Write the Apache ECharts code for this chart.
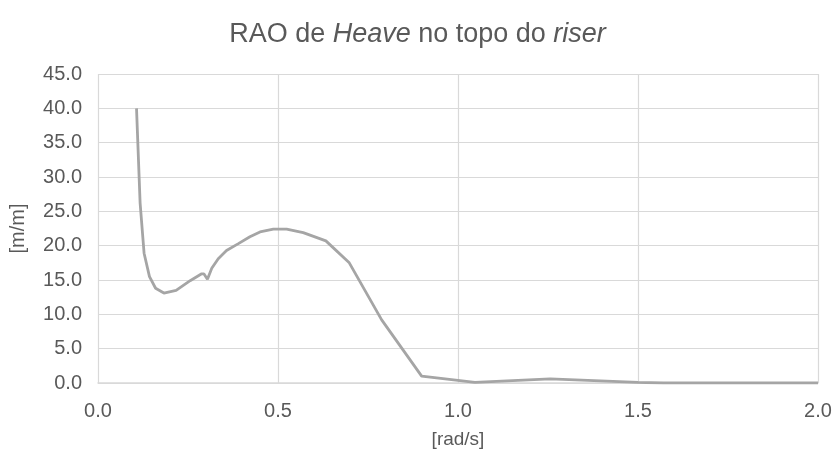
<!DOCTYPE html>
<html>
<head>
<meta charset="utf-8">
<script src="https://cdn.jsdelivr.net/npm/echarts@6/dist/echarts.min.js"></script>
<style>
html,body{margin:0;padding:0;background:#fff;}
#chart{width:835px;height:458px;}
</style>
</head>
<body>
<div id="chart"></div>
<script>
const omega = [0.107, 0.117, 0.128, 0.143, 0.160, 0.183, 0.217, 0.256, 0.288, 0.294, 0.304, 0.316, 0.334, 0.357, 0.390, 0.422, 0.450, 0.487, 0.524, 0.570, 0.633, 0.698, 0.788, 0.899, 1.047, 1.256, 1.500, 1.570, 1.750, 2.000];
const rao = [40.0, 26.2, 18.9, 15.5, 13.8, 13.1, 13.5, 14.9, 15.9, 15.9, 15.1, 16.7, 18.1, 19.3, 20.3, 21.3, 22.0, 22.4, 22.4, 21.9, 20.7, 17.5, 9.2, 1.0, 0.1, 0.6, 0.1, 0.0, 0.0, 0.0];
const xTicks = {min: 0, max: 2, step: 0.5};
const yTicks = {min: 0, max: 45, step: 5};

const chart = echarts.init(document.getElementById('chart'));
const txt = '#595959';
const font = 'Liberation Sans, Arial, sans-serif';
chart.setOption({
  animation: false,
  title: {
    text: 'RAO de {i|Heave} no topo do {i|riser}',
    left: 'center',
    top: 16,
    textStyle: {
      fontFamily: font, fontSize: 27, fontWeight: 'normal', color: txt,
      rich: { i: { fontFamily: font, fontSize: 27, fontStyle: 'italic', color: txt } }
    }
  },
  grid: { left: 98, right: 17, top: 74, bottom: 75 },
  xAxis: {
    type: 'value', min: xTicks.min, max: xTicks.max, interval: xTicks.step,
    name: '[rad/s]', nameLocation: 'middle', nameGap: 47,
    nameTextStyle: { fontFamily: font, fontSize: 19, color: txt },
    axisLine: { show: true, lineStyle: { color: '#D9D9D9', width: 1.5 } },
    axisTick: { show: false },
    axisLabel: { fontFamily: font, fontSize: 20, color: txt, margin: 18, formatter: v => v.toFixed(1) },
    splitLine: { show: true, lineStyle: { color: '#D9D9D9', width: 1.2 } }
  },
  yAxis: {
    type: 'value', min: yTicks.min, max: yTicks.max, interval: yTicks.step,
    name: '[m/m]', nameLocation: 'middle', nameGap: 70, nameRotate: 90,
    nameTextStyle: { fontFamily: font, fontSize: 20, color: txt },
    axisLine: { show: false },
    axisTick: { show: false },
    axisLabel: { fontFamily: font, fontSize: 20, color: txt, margin: 16, formatter: v => v.toFixed(1) },
    splitLine: { show: true, lineStyle: { color: '#D9D9D9', width: 1.2 } }
  },
  series: [{
    type: 'line',
    data: omega.map((w, i) => [w, rao[i]]),
    showSymbol: false,
    smooth: false,
    lineStyle: { color: '#A5A5A5', width: 2.8 },
    itemStyle: { color: '#A5A5A5' }
  }]
});
</script>
</body>
</html>
